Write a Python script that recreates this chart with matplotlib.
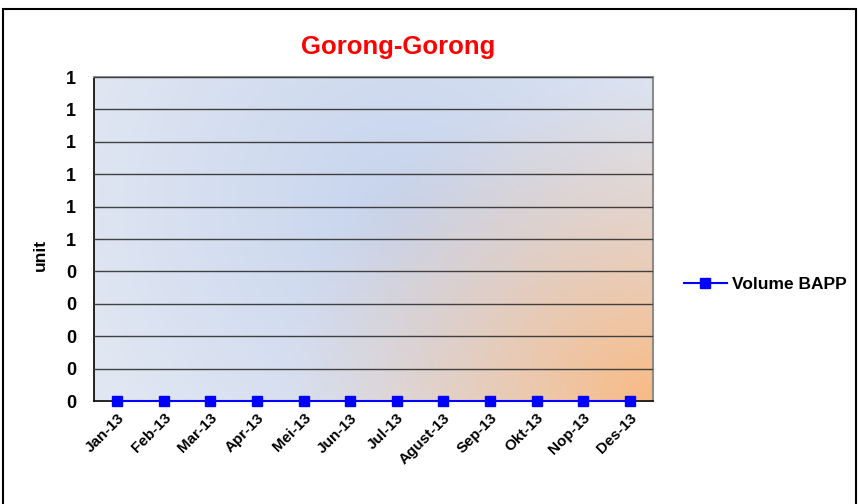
import numpy as np
import matplotlib
matplotlib.use("Agg")
import matplotlib.pyplot as plt
from matplotlib.patches import Rectangle
from matplotlib.ticker import FuncFormatter

months = ["Jan-13", "Feb-13", "Mar-13", "Apr-13", "Mei-13", "Jun-13",
          "Jul-13", "Agust-13", "Sep-13", "Okt-13", "Nop-13", "Des-13"]
volume_bapp = [0, 0, 0, 0, 0, 0, 0, 0, 0, 0, 0, 0]
series_name = "Volume BAPP"
title = "Gorong-Gorong"
ylabel = "unit"

plt.rcParams['font.family'] = ['Liberation Sans', 'DejaVu Sans']

W, H = 859, 504
fig = plt.figure(figsize=(W / 100, H / 100), dpi=100)
L, R, T, B = 94, 653, 77, 401
ax = fig.add_axes([L / W, 1 - B / H, (R - L) / W, (B - T) / H])

# gradient background
pw, ph = R - L, B - T
xs = np.linspace(0, 1, 300)
ys = np.linspace(0, 1, 200)
X, Y = np.meshgrid(xs, ys)  # Y=0 top
blue_c = np.array([0xc6, 0xd4, 0xee]) / 255
edge_c = np.array([0xe0, 0xe6, 0xf2]) / 255
d = np.sqrt(((X - 0.55) * pw) ** 2 + ((Y - 0.4) * ph) ** 2) / 330
d = np.clip(d, 0, 1)[..., None]
img = blue_c * (1 - d) + edge_c * d
org_c = np.array([0xf8, 0xba, 0x84]) / 255
dbr = np.sqrt(((1 - X) * pw) ** 2 + ((1 - Y) * ph * 1.15) ** 2)
t = np.clip(1 - dbr / 380, 0, 1) ** 1.25
t = t[..., None]
img = img * (1 - t) + org_c * t
ax.imshow(img, extent=(-0.5, 11.5, 0, 1), aspect='auto', zorder=0,
          interpolation='bilinear')

x = np.arange(len(months))
ax.plot(x, volume_bapp, color='#0000ff', marker='s', markersize=7.5,
        linewidth=1.5, label=series_name, zorder=5, clip_on=False)

ax.set_xlim(-0.5, 11.5)
ax.set_ylim(0, 1)
ax.set_yticks(np.linspace(0, 1, 11))
ax.yaxis.set_major_formatter(FuncFormatter(lambda v, p: "%d" % int(np.floor(v + 0.5 + 1e-9))))
ax.grid(axis='y', color='#404040', linewidth=1, zorder=1)
ax.set_axisbelow(False)
ax.set_xticks(x)
ax.set_xticklabels(months, rotation=45, ha='right', rotation_mode='anchor',
                   fontsize=11, fontweight='bold')
for lab in ax.get_yticklabels():
    lab.set_fontweight('bold')
    lab.set_fontsize(13)
ax.tick_params(axis='both', length=0)
ax.tick_params(axis='y', pad=13)
ax.tick_params(axis='x', pad=7)
for s in ['top', 'right']:
    ax.spines[s].set_color('#8c8c8c')
    ax.spines[s].set_linewidth(1.5)
for s in ['left', 'bottom']:
    ax.spines[s].set_color('black')
    ax.spines[s].set_linewidth(1.2)

fig.text(40 / W, 1 - 255 / H, ylabel, rotation=90, ha='center', va='center',
         fontsize=12.5, fontweight='bold')
fig.text(398 / W, 1 - 47 / H, title, ha='center', va='center',
         fontsize=18.5, fontweight='bold', color='#ff0000')

fig.legend(loc='center left', bbox_to_anchor=(668 / W, 1 - 284 / H),
           frameon=False, prop={'weight': 'bold', 'size': 12.5},
           handlelength=2.5, handletextpad=0.3, markerscale=0.95)

fig.patches.append(Rectangle((3 / W, -0.1), 853 / W, 1 - 9 / H + 0.1,
                             transform=fig.transFigure, fill=False,
                             edgecolor='black', linewidth=1.5))

fig.savefig("out.png", dpi=100)
